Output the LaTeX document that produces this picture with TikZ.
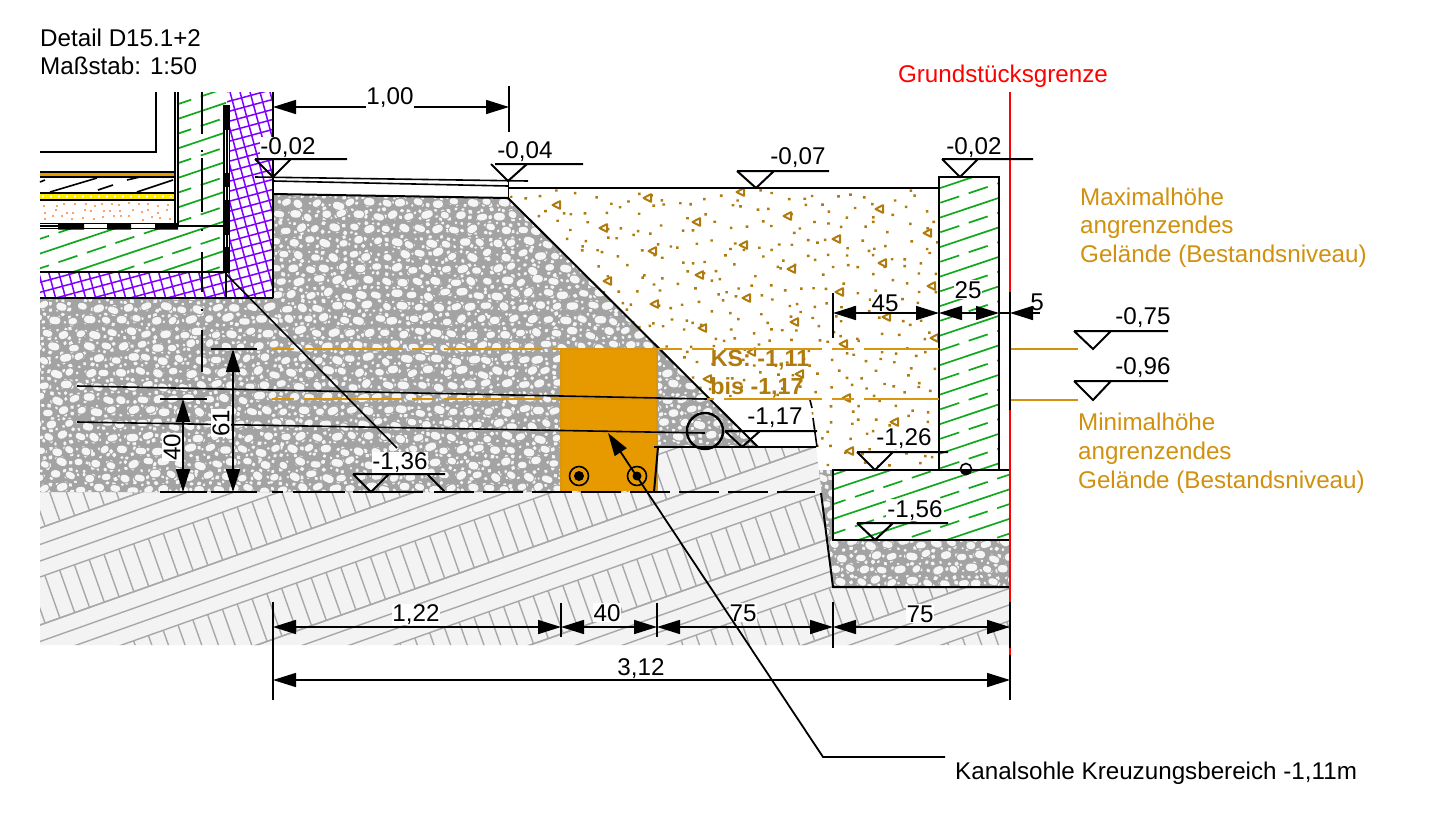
\documentclass[tikz,border=0pt]{standalone}
\usepackage{fontspec}
\setmainfont{Liberation Sans}
\usetikzlibrary{arrows.meta}
\definecolor{soilbg}{HTML}{F3F3F3}
\definecolor{soilln}{HTML}{A8A8A8}
\definecolor{grav}{HTML}{A3A3A3}
\definecolor{orng}{HTML}{E69A00}
\definecolor{orngd}{HTML}{D8960F}
\definecolor{sand}{HTML}{B07A0C}
\definecolor{grn}{HTML}{12A81E}
\definecolor{purp}{HTML}{8000FF}
\definecolor{lbltxt}{HTML}{D1900E}
\tikzset{
  thickln/.style={line width=2pt,black},
  thinln/.style={line width=1.6pt,black},
  tipa/.tip={Triangle[length=23pt,width=14pt,sep=0pt]},
  dimline/.style={line width=1.6pt,black,{tipa}-{tipa}},
  lbl/.style={font=\fontsize{24.2}{28}\selectfont,inner sep=1pt,fill=white,text=black},
  plain/.style={font=\fontsize{24.2}{28}\selectfont,inner sep=0pt,text=black},
  sandtri/.style={draw=sand,fill=white,line width=2pt,line join=round},
  pebble/.style={line cap=round,white!96!black},
}
% small pebbles: short round-capped strokes; big ones get a grey halo first
\newcommand{\bigpass}[6]{% x0,x1,y0,y1, x-offset, (colour+width options)
  \draw[line cap=round,#6] \foreach \gi in {0,...,\gnx}{%
    \foreach \gj [evaluate=\gj as \gx using #1+#5+34*\gi+8.5*(\gj-2*floor(\gj/2))+6*rnd-3,
                  evaluate=\gj as \gy using #3+13*\gj+5*rnd-2.5,
                  evaluate=\gj as \gdx using 1.5+3*rnd,
                  evaluate=\gj as \gdy using -1.8+3.6*rnd] in {0,...,\gny}{%
      (\gx,\gy) -- ++(\gdx,\gdy)
    }%
  };%
}
\newcommand{\gravelfill}[4]{%
  \pgfmathtruncatemacro{\gnx}{(#2-#1)/21}%
  \pgfmathtruncatemacro{\gny}{(#4-#3)/7}%
  \foreach \wd/\off in {2.2/0,3.0/7,3.8/14}{%
    \draw[pebble,line width=\wd pt] \foreach \gi in {0,...,\gnx}{%
      \foreach \gj [evaluate=\gj as \gx using #1+\off+21*\gi+4*rnd-2,
                    evaluate=\gj as \gy using #3+7*\gj+4*rnd-2,
                    evaluate=\gj as \gdx using 2.6*rnd-1.3,
                    evaluate=\gj as \gdy using 2.6*rnd-1.3] in {0,...,\gny}{%
        (\gx,\gy) -- ++(\gdx,\gdy)
      }%
    };%
  }%
  \pgfmathtruncatemacro{\gnx}{(#2-#1)/34}%
  \pgfmathtruncatemacro{\gny}{(#4-#3)/13}%
  \pgfmathsetseed{771}\bigpass{#1}{#2}{#3}{#4}{0}{grav,line width=8.5pt}%
  \pgfmathsetseed{772}\bigpass{#1}{#2}{#3}{#4}{17}{grav,line width=9.6pt}%
  \pgfmathsetseed{771}\bigpass{#1}{#2}{#3}{#4}{0}{white!96!black,line width=6.2pt}%
  \pgfmathsetseed{772}\bigpass{#1}{#2}{#3}{#4}{17}{white!96!black,line width=7.3pt}%
}
\newcommand{\greenhatch}{%
  \draw[grn,line width=1.7pt] \foreach \k [evaluate=\k as \ya using 503+29.5*\k-0.335*30,
                                           evaluate=\k as \yb using 503+29.5*\k-0.335*1020] in {-16,...,16}{%
    (30,\ya) -- (1020,\yb)
  };%
  \draw[grn,line width=1.7pt,dash pattern=on 20pt off 10pt] \foreach \k [evaluate=\k as \ya using 503+29.5*\k-0.335*30+14.75,
                                           evaluate=\k as \yb using 503+29.5*\k-0.335*1020+14.75] in {-16,...,16}{%
    (30,\ya) -- (1020,\yb)
  };%
}
\begin{document}
\begin{tikzpicture}[x=1pt,y=-1pt]
\useasboundingbox (0,0) rectangle (1446,836);
\fill[white] (0,0) rectangle (1446,836);
\pgfmathsetseed{4217}
% ---- soil
\begin{scope}
  \clip (40,492) -- (654,492) -- (658,447) -- (816,447) -- (833,587) -- (1010,587) -- (1010,645) -- (40,645) -- cycle;
  \fill[soilbg] (30,440) rectangle (1020,650);
  \foreach \k in {-2,...,7}{%
    \foreach \d in {0,16.5,33,49,97}{%
      \pgfmathsetmacro{\ya}{528+97*\k+\d}%
      \pgfmathsetmacro{\yb}{\ya-0.355*970}%
      \draw[soilln,line width=1.4pt] (40,\ya) -- (1010,\yb);
    }%
    \draw[soilln,line width=1.4pt] \foreach \t [evaluate=\t as \xa using 30+14.8*\t,
       evaluate=\t as \ya using 528+97*\k+49-0.355*(30+14.8*\t-40),
       evaluate=\t as \xb using 30+14.8*\t+15.1,
       evaluate=\t as \yb using 528+97*\k+49-0.355*(30+14.8*\t-40)+42.6] in {0,...,66}{%
      (\xa,\ya) -- (\xb,\yb)
    };%
  }%
\end{scope}
% ---- gravel
\begin{scope}
  \clip (40,297) -- (272,297) -- (272,194) -- (508,198) -- (758,447) -- (658,447) -- (654,492) -- (40,492) -- cycle;
  \fill[grav] (30,190) rectangle (770,500);
  \gravelfill{36}{764}{190}{496}
\end{scope}
\begin{scope}
  \clip (819,470) -- (833,470) -- (833,540) -- (1010,540) -- (1010,587) -- (833,587) -- cycle;
  \fill[grav] (810,465) rectangle (1015,592);
  \gravelfill{815}{1015}{465}{592}
\end{scope}
\pgfmathsetseed{1234}
% ---- trench
\fill[orng] (561,349) rectangle (657,491);
\draw[orngd,line width=1.6pt] (561,349) -- (561,491) (657,349) -- (657,491) (561,349) -- (657,349);
% ---- sand
\begin{scope}
  \clip (508,198) -- (522,188) -- (939,188) -- (939,470) -- (819,470) -- (810,400) -- (710,400) -- cycle;
  \fill[sand] \foreach \i in {0,...,29}{%
    \foreach \j [evaluate=\j as \sx using 508+15*\i+15*rnd,
                 evaluate=\j as \sy using 188+15*\j+15*rnd] in {0,...,19}{%
      (\sx,\sy) rectangle ++(2.6,2.4)
    }%
  };%
  \foreach \px/\py in {648/198,741/192,697/222,788/216,653/251,744/245,837/239,700/275,792/269,747/298,840/292,655/304,795/322,703/328,844/344,752/352,800/374,708/379,847/398,880/209,928/233,883/263,932/286,887/317,935/338,895/422,850/451,557/205,604/228,608/281}{%
    \draw[sandtri] (\px-4.5,\py) -- (\px+3,\py-3.8) -- (\px+3,\py+3.8) -- cycle;
  }%
\end{scope}
% ---- green
\begin{scope}
  \clip (939,177) rectangle (999,470);
  \greenhatch
\end{scope}
\begin{scope}
  \clip (833,470) rectangle (1010,540);
  \greenhatch
\end{scope}
\begin{scope}
  \clip (178,92) -- (226,92) -- (226,272) -- (40,272) -- (40,229) -- (178,229) -- cycle;
  \greenhatch
\end{scope}
% ---- purple grid
\begin{scope}
  \clip (227,92) -- (272,92) -- (272,297) -- (40,297) -- (40,272) -- (227,272) -- cycle;
  \foreach \k in {0,...,36}{%
    \pgfmathsetmacro{\ca}{85+10*\k}%
    \draw[purp,line width=1.5pt] (30,\ca) -- (280,\ca-67.5);
    \pgfmathsetmacro{\ea}{-30+10*\k}%
    \pgfmathsetmacro{\eb}{\ea+0.27*210}%
    \draw[purp,line width=1.5pt] (\ea,92) -- (\eb,302);
  }%
\end{scope}
% ---- floor layers
\fill[orng] (40,173) rectangle (175,176.5);
\draw[thinln] (40,172) -- (175,172) (40,177) -- (175,177);
\draw[thinln] (50,192) -- (97,178) (98,190) -- (113,185) (127,180) -- (140,177) (137,192) -- (173,180) (40,182) -- (45,180);
\fill[yellow!95!orange] (40,194) rectangle (175,199);
\foreach \t in {0,...,16}{\fill[white] (43+8*\t,196.5) circle[radius=1.2pt];}
\draw[thinln] (40,193) -- (175,193) (40,200) -- (175,200);
\begin{scope}
  \foreach \i in {0,...,13}{%
    \foreach \j in {0,1,2}{%
      \pgfmathsetmacro{\sx}{42+9.5*\i+5*rnd}%
      \pgfmathsetmacro{\sy}{202+6.5*\j+4*rnd}%
      \fill[orange!45!pink] (\sx,\sy) rectangle ++(2,2);
    }%
  }%
\end{scope}
\draw[thinln] (40,223.5) -- (178,223.5) (40,228.5) -- (178,228.5);
\fill[black] (58,223) rectangle (84,229.5) (107,223) rectangle (131,229.5) (155,223) rectangle (178,229.5);
\draw[thinln] (40,226) -- (58,226);
\draw[thinln] (178,226) -- (224,226);
\draw[thinln] (175,92) -- (175,226) (178,92) -- (178,226);
\draw[thickln] (40,152) -- (156,152) -- (156,92);
% centre line
\draw[thinln] (202,92) -- (202,134) (202,150) -- (202,152) (202,158) -- (202,212) (202,229) -- (202,231) (202,252) -- (202,292) (202,309) -- (202,311) (202,330) -- (202,372);
% wall bar
\fill[black] (223,105) rectangle (230,273);
\draw[white,line width=1pt] (225,130) -- (225,173) (228,130) -- (228,173) (225,187) -- (225,200) (228,187) -- (228,200) (225,235) -- (225,247) (228,235) -- (228,247);
\draw[thickln] (40,272) -- (226,272) (40,297.5) -- (273,297.5);
\draw[thinln] (226,272) -- (226,297);
\draw[thickln] (272.5,92) -- (272.5,297.5);
% ---- terrain lines
\draw[thinln] (255,177) -- (528,181);
\draw[thinln] (273,181) -- (508,186);
\draw[thickln] (273,194) -- (508,198) -- (758,447);
\draw[thinln] (508.5,181) -- (508.5,198);
\draw[thickln] (508,188) -- (939,188);
\draw[thickln] (658,447) -- (654,492);
\draw[thickln] (654,447) -- (816,447);
\draw[thinln] (810,400) -- (812,408) (813,418) -- (817,447);
\draw[thickln] (821,493) -- (833,587) -- (1010,587);
\draw[thickln] (939,188) -- (939,177) -- (999,177) -- (999,470);
\draw[thickln] (939,177) -- (939,470);
\draw[thickln] (833,470) rectangle (1010,540);
\fill[white] (966,469) circle[radius=6pt];
\fill[black] (960,469) arc[start angle=180,end angle=360,radius=6pt] -- cycle;
\draw[thinln] (966,469) circle[radius=5.5pt];
\draw[line width=2pt,black,dash pattern=on 40pt off 9pt] (434,492) -- (815,492);
\draw[line width=2pt,black] (272,492) -- (283,492) (293,492) -- (345,492) (353,492) -- (423,492);
% orange levels
\draw[orngd,line width=2pt] (272,349) -- (294,349);
\draw[orngd,line width=2pt] (272,399) -- (294,399);
\draw[orngd,line width=2pt,dash pattern=on 98pt off 10pt on 22pt off 10pt,dash phase=0pt] (304,349) -- (939,349);
\draw[orngd,line width=2pt,dash pattern=on 98pt off 10pt on 22pt off 10pt,dash phase=0pt] (304,399) -- (939,399);
\draw[lbltxt,line width=1.6pt] (1010,349) -- (1078,349) (1010,400) -- (1078,400);
% red border
\draw[red,line width=2.4pt] (1010,92) -- (1010,655);
\draw[thickln] (1010,292) -- (1010,410) (1010,602) -- (1010,648) (1010,655) -- (1010,700);
% pipes
\draw[thinln] (77,386) -- (707,399);
\draw[thinln] (77,422) -- (705,433);
\draw[line width=2.4pt] (705,431) circle[radius=18pt];
\fill[orng] (579,476) circle[radius=9pt] (637,476) circle[radius=9pt];
\draw[line width=1.6pt] (579,476) circle[radius=9.5pt] (637,476) circle[radius=9.5pt];
\fill[black] (579,476) circle[radius=5pt] (637,476) circle[radius=4.5pt];
% leader to level -1,36
\draw[thinln] (226,274) -- (397,448);
% dimensions
\draw[thinln] (509,86) -- (509,132);
\draw[dimline] (273,107) -- (509,107);
\draw[thinln] (833,293) -- (833,338);
\draw[dimline] (833,313) -- (939,313);
\draw[dimline] (939,313) -- (999,313);
\draw[line width=1.6pt,black,{tipa}-] (1010,313) -- (1040,313);
\draw[line width=1.6pt,black] (999,313) -- (1010,313);
\draw[thinln] (160,399) -- (207,399) (160,492) -- (207,492);
\draw[thinln] (211,349) -- (257,349) (211,492) -- (257,492);
\draw[dimline] (183,399) -- (183,492);
\draw[dimline] (233,349) -- (233,492);
\draw[thinln] (273,602) -- (273,700);
\draw[thinln] (561,603) -- (561,637) (657,603) -- (657,637) (833,602) -- (833,648);
\draw[dimline] (273,627) -- (561,627);
\draw[dimline] (561,627) -- (657,627);
\draw[dimline] (657,627) -- (833,627);
\draw[dimline] (833,627) -- (1010,627);
\draw[dimline] (273,680) -- (1010,680);
% level markers
\draw[thickln] (255,159) -- (347,159) (255,159) -- (273,177) -- (291,159);
\draw[thickln] (495,164) -- (583,164) (491,164) -- (508,181) -- (527,164);
\draw[thickln] (737,171) -- (829,171) (737,171) -- (756,188) -- (774,171);
\draw[thickln] (942,159) -- (1033,159) (942,159) -- (960,177) -- (978,159);
\draw[thickln] (725,431) -- (817,431) (725,431) -- (742,447) (742,447) -- (760,431);
\draw[thickln] (857,452) -- (948,452) (857,452) -- (875,470) -- (893,452);
\draw[thickln] (857,523) -- (948,523) (857,523) -- (875,540) -- (893,523);
\draw[thickln] (353,474) -- (445,474) (353,474) -- (371,492) -- (389,474) (427,474) -- (445,492);
\draw[thickln] (1074,331) -- (1168,331) (1074,331) -- (1093,349) -- (1111,331);
\draw[thickln] (1074,381) -- (1168,381) (1074,381) -- (1093,400) -- (1111,381);
% labels
\node[plain,anchor=base west] (t1) at (40,46) {Detail D15.1+2};
\node[plain,anchor=base west] (t2) at (40,74) {Maßstab: 1:50};
\node[plain,anchor=base,text=red] (t3) at (1003,82) {Grundstücksgrenze};
\node[lbl,anchor=base,inner sep=0.5pt] (d100) at (390,104.5) {1,00};
\node[lbl,anchor=base,inner sep=0.5pt] (l1) at (288,154) {-0,02};
\node[lbl,anchor=base,fill=none] (l2) at (525,158) {-0,04};
\node[lbl,anchor=base,fill=none] (l3) at (798,164) {-0,07};
\node[lbl,anchor=base,fill=none] (l4) at (974,154) {-0,02};
\foreach \nm/\yy/\tx in {a/205/Maximalhöhe,b/233/angrenzendes,c/262/Gelände (Bestandsniveau)}{\node[plain,anchor=base west,text=lbltxt] (mx\nm) at (1080,\yy) {\tx};}
\foreach \nm/\yy/\tx in {a/430/Minimalhöhe,b/459/angrenzendes,c/488/Gelände (Bestandsniveau)}{\node[plain,anchor=base west,text=lbltxt] (mn\nm) at (1078,\yy) {\tx};}
\node[lbl,anchor=base,fill=none] (l5) at (1143,324) {-0,75};
\node[lbl,anchor=base,fill=none] (l6) at (1143,374) {-0,96};
\node[lbl,anchor=base] (d45) at (885,311) {45};
\node[lbl,anchor=base] (d25) at (968,298) {25};
\node[lbl,anchor=base,fill=none] (d5) at (1037,310) {5};
\node[plain,anchor=base,text=sand,font=\fontsize{23.3}{27}\selectfont\bfseries] (ks) at (760,366) {KS: -1,11};
\node[plain,anchor=base,text=sand,font=\fontsize{23.3}{27}\selectfont\bfseries] (bis) at (757,394) {bis -1,17};
\node[lbl,anchor=base] (l7) at (775,424) {-1,17};
\node[lbl,anchor=base] (l8) at (904,445) {-1,26};
\node[lbl,anchor=base] (l9) at (915,517) {-1,56};
\node[lbl,anchor=base,inner sep=0.5pt] (l10) at (400,469) {-1,36};
\node[lbl,rotate=90] (d40) at (172,447) {40};
\node[lbl,rotate=90] (d61) at (221,423) {61};
\node[lbl,anchor=base,inner sep=0.5pt] (b1) at (416,621) {1,22};
\node[lbl,anchor=base] (b2) at (607,621) {40};
\node[lbl,anchor=base] (b3) at (743,621) {75};
\node[lbl,anchor=base] (b4) at (920,622) {75};
\node[lbl,anchor=base,inner sep=0.5pt] (b5) at (641,675.5) {3,12};
\node[plain,anchor=base west] (kan) at (955,779) {Kanalsohle Kreuzungsbereich -1,11m};
% leader
\coordinate (ldtip) at (608,433);
\coordinate (ldbend) at (823,757);
\coordinate (ldend) at (945,757);
\draw[line width=1.8pt,black,{tipa}-] (ldtip) -- (ldbend) -- (ldend);
\end{tikzpicture}
\end{document}
